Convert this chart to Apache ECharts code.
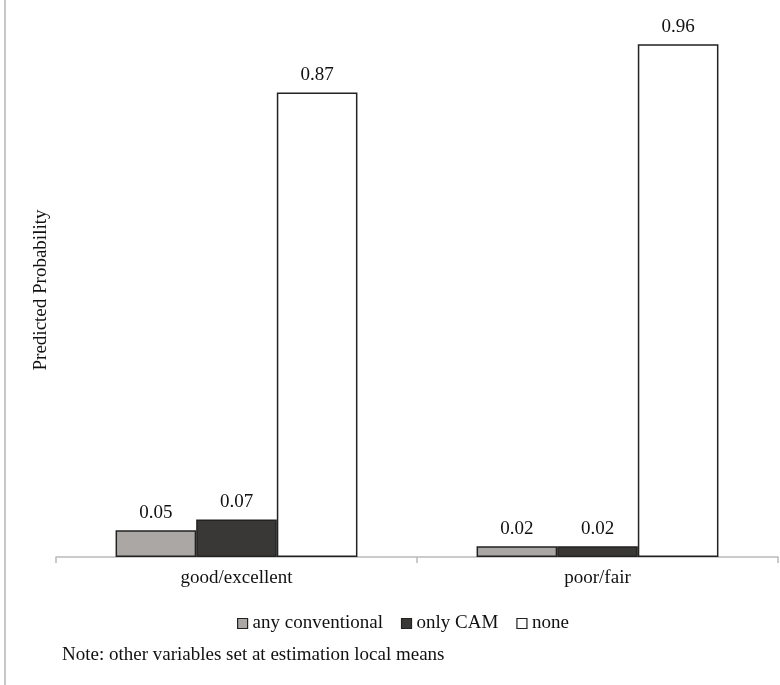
<!DOCTYPE html>
<html>
<head>
<meta charset="utf-8">
<style>
  html, body { margin: 0; padding: 0; background: #fff; }
  #chart { width: 780px; height: 685px; }
</style>
<script src="https://cdn.jsdelivr.net/npm/echarts@6/dist/echarts.min.js"></script>
</head>
<body>
<div id="chart"></div>
<script>
// Self-rated health groups and predicted probabilities of care use
const categories = ['good/excellent', 'poor/fair'];
const anyConventional = [0.05, 0.02];
const onlyCAM = [0.07, 0.02];
const none = [0.87, 0.96];

const FONT = '"Liberation Serif", "Times New Roman", serif';
const TEXT = '#111';
const SIZE = 19;

function barSeries(name, data, color) {
  return {
    name: name,
    type: 'bar',
    data: data,
    barGap: '0%',
    barCategoryGap: '33%',
    itemStyle: { color: color, borderColor: '#222', borderWidth: 1.5 },
    label: {
      show: true,
      position: 'top',
      distance: 8,
      fontFamily: FONT,
      fontSize: SIZE,
      color: TEXT,
      formatter: p => p.value.toFixed(2)
    }
  };
}

const legendText = { fontFamily: FONT, fontSize: SIZE, color: TEXT };

const chart = echarts.init(document.getElementById('chart'), null, { renderer: 'canvas' });
chart.setOption({
  animation: false,
  backgroundColor: '#fff',
  grid: { left: 56, right: 2, top: 23, bottom: 128, containLabel: false },
  xAxis: {
    type: 'category',
    data: categories,
    axisLine: { lineStyle: { color: '#bbb', width: 1.5 } },
    axisTick: { show: true, length: 6, lineStyle: { color: '#bbb', width: 1.5 } },
    axisLabel: { fontFamily: FONT, fontSize: SIZE, color: TEXT, margin: 12 }
  },
  yAxis: {
    type: 'value',
    min: 0,
    max: 1,
    axisLine: { show: false },
    axisTick: { show: false },
    axisLabel: { show: false },
    splitLine: { show: false },
    name: 'Predicted Probability',
    nameLocation: 'middle',
    nameRotate: 90,
    nameGap: 5,
    nameTextStyle: { fontFamily: FONT, fontSize: SIZE, color: TEXT }
  },
  legend: {
    left: 232,
    top: 609,
    itemWidth: 10,
    itemHeight: 10,
    itemGap: 18,
    icon: 'rect',
    textStyle: legendText,
    data: [
      { name: 'any conventional', textStyle: legendText, itemStyle: { color: '#aaa7a4', borderColor: '#222', borderWidth: 1.2 } },
      { name: 'only CAM', textStyle: legendText, itemStyle: { color: '#3a3837', borderColor: '#222', borderWidth: 1.2 } },
      { name: 'none', textStyle: legendText, itemStyle: { color: '#fff', borderColor: '#222', borderWidth: 1.2 } }
    ]
  },
  graphic: [
    {
      type: 'line',
      shape: { x1: 5, y1: 0, x2: 5, y2: 685 },
      style: { stroke: '#c8c8c8', lineWidth: 2 }
    },
    {
      type: 'text',
      left: 62,
      top: 646,
      style: {
        text: 'Note: other variables set at estimation local means',
        font: SIZE + 'px ' + FONT,
        fill: TEXT
      }
    }
  ],
  series: [
    barSeries('any conventional', anyConventional, '#aaa7a4'),
    barSeries('only CAM', onlyCAM, '#3a3837'),
    barSeries('none', none, '#ffffff')
  ]
});
</script>
</body>
</html>
